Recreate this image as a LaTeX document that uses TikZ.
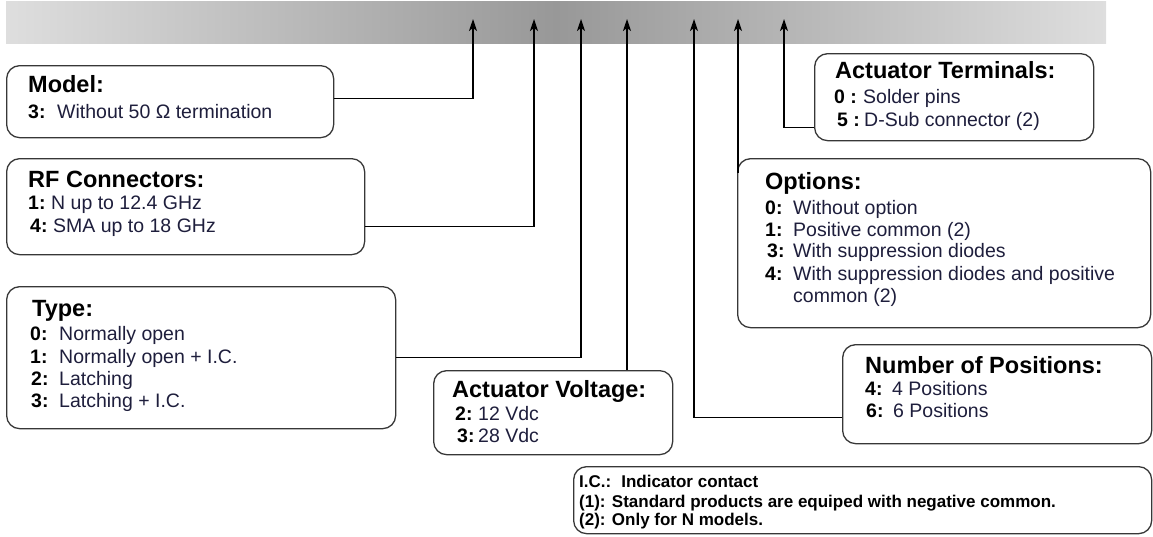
\documentclass[tikz,border=0pt]{standalone}
\usepackage{fontspec}
\setmainfont{Liberation Sans}
\usetikzlibrary{arrows.meta,calc}
\definecolor{barEdge}{RGB}{222,222,222}
\definecolor{barMid}{RGB}{152,152,152}
\definecolor{boxLine}{RGB}{55,55,55}
\definecolor{bodyText}{RGB}{30,30,60}
\tikzset{
 box/.style={draw=boxLine, line width=1.3pt, rounded corners=13pt, anchor=north west, inner sep=0pt, fill=white},
 conn/.style={draw=black, line width=1.5pt, -{Stealth[length=12pt,width=8pt,inset=3pt]}},
 ttl/.style={anchor=base west, inner sep=0pt, font=\fontsize{23.5}{27}\selectfont\bfseries},
 num/.style={anchor=base west, inner sep=0pt, font=\fontsize{19.5}{22}\selectfont\bfseries},
 txt/.style={anchor=base west, inner sep=0pt, text=bodyText, font=\fontsize{19.5}{22}\selectfont},
 note/.style={anchor=base west, inner sep=0pt, font=\fontsize{17}{19}\selectfont\bfseries},
}
\newcommand\entry[6]{%
 \node[num] (#1n) at (#2,#4) {#5};
 \node[txt] (#1t) at (#3,#4) {#6};
}
\begin{document}
\begin{tikzpicture}[x=1pt,y=-1pt]
\useasboundingbox (0,0) rectangle (1153,536);
% top bar
\shade[left color=barEdge, right color=barEdge, middle color=barMid] (6,1) rectangle (1106,43);
\coordinate (t1) at (473,19);
\coordinate (t2) at (534,19);
\coordinate (t3) at (581,19);
\coordinate (t4) at (627,19);
\coordinate (t5) at (694,19);
\coordinate (t6) at (738,19);
\coordinate (t7) at (784,19);
% boxes
\node[box, minimum width=327pt, minimum height=72pt] (model) at (6,65) {};
\node[box, minimum width=358pt, minimum height=96pt] (rf) at (6,158) {};
\node[box, minimum width=389pt, minimum height=142pt] (type) at (6,286) {};
\node[box, minimum width=239pt, minimum height=84pt] (av) at (433,370) {};
\node[box, minimum width=279pt, minimum height=87pt] (term) at (814,53) {};
\node[box, minimum width=413pt, minimum height=169pt] (opt) at (737,158) {};
\node[box, minimum width=309pt, minimum height=99pt] (nop) at (842,344) {};
\node[box, minimum width=578pt, minimum height=67pt] (notes) at (573,466) {};
% connectors
\draw[conn] ([yshift=3pt]model.east) -| (t1);
\draw[conn] ([yshift=-20pt]rf.east) -| (t2);
\draw[conn] (type.east) -| (t3);
\draw[conn] (t4 |- av.north) -- (t4);
\draw[conn] ([yshift=-23.5pt]nop.west) -| (t5);
\draw[conn] ($(t6 |- opt.north)+(0,15)$) -- (t6);
\draw[conn] ([yshift=-30.5pt]term.west) -| (t7);
% Model
\node[ttl] (modelT) at (28,92) {Model:};
\entry{m1}{28}{57}{118}{3:}{Without 50 Ω termination}
% RF
\node[ttl] (rfT) at (28,187) {RF Connectors:};
\entry{r1}{28}{51}{209}{1:}{N up to 12.4 GHz}
\entry{r2}{30}{53}{232}{4:}{SMA up to 18 GHz}
% Type
\node[ttl] (typeT) at (32,316) {Type:};
\entry{y0}{30}{59}{340}{0:}{Normally open}
\entry{y1}{30}{59}{363}{1:}{Normally open + I.C.}
\entry{y2}{31}{59}{385}{2:}{Latching}
\entry{y3}{31}{59}{407}{3:}{Latching + I.C.}
% Actuator voltage
\node[ttl] (avT) at (452,397) {Actuator Voltage:};
\entry{a2}{455}{478}{420}{2:}{12 Vdc}
\entry{a3}{457}{478}{442}{3:}{28 Vdc}
% Actuator terminals
\node[ttl] (termT) at (835,78) {Actuator Terminals:};
\entry{k0}{834}{863}{103}{0 :}{Solder pins}
\entry{k5}{837}{864}{126}{5 :}{D-Sub connector (2)}
% Options
\node[ttl] (optT) at (765,189) {Options:};
\entry{o0}{765}{793}{214}{0:}{Without option}
\entry{o1}{765}{793}{236}{1:}{Positive common (2)}
\entry{o3}{767}{793}{257}{3:}{With suppression diodes}
\entry{o4}{765}{793}{280}{4:}{With suppression diodes and positive}
\node[txt] (o4b) at (793,302) {common (2)};
% Number of positions
\node[ttl] (nopT) at (865,373) {Number of Positions:};
\entry{p4}{865}{892}{395}{4:}{4 Positions}
\entry{p6}{866}{893}{417}{6:}{6 Positions}
% Notes
\node[note] (n1) at (579,487) {I.C.:\hspace{10pt}Indicator contact};
\node[note] (n2) at (579,507) {(1): Standard products are equiped with negative common.};
\node[note] (n3) at (579,525) {(2): Only for N models.};
\end{tikzpicture}
\end{document}
